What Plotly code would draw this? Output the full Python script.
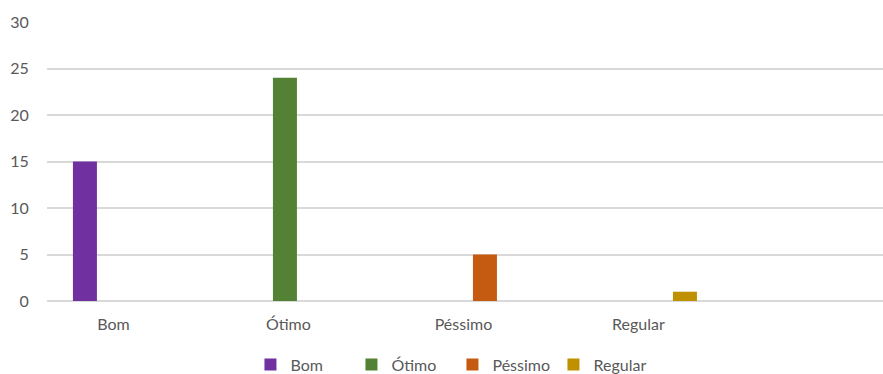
import plotly.graph_objects as go

# Categories and counts
categorias = ["Bom", "Ótimo", "Péssimo", "Regular"]
valores = [15, 24, 5, 1]
cores = ["#7030A0", "#548235", "#C55A11", "#BF9000"]
y_ticks = [0, 5, 10, 15, 20, 25, 30]

texto = "#595959"
grade = "#D9D9D9"
fonte = "Lato, 'Open Sans', sans-serif"

fig = go.Figure()
for nome, valor, cor in zip(categorias, valores, cores):
    # each series only carries a value in its own category
    y = [valor if c == nome else None for c in categorias]
    fig.add_trace(go.Bar(x=categorias, y=y, name=nome, marker_color=cor,
                         marker_line_width=0))

fig.update_layout(
    width=883, height=374,
    margin=dict(l=47, r=0, t=22, b=73, pad=0, autoexpand=False),
    paper_bgcolor="white", plot_bgcolor="white",
    barmode="group", bargap=0.4286, bargroupgap=0.04,
    font=dict(family=fonte, size=16, color=texto),
    showlegend=True,
    legend=dict(orientation="h", x=0.485, xanchor="center",
                yref="container", y=0.025, yanchor="middle",
                font=dict(size=16, color=texto),
                entrywidth=56, entrywidthmode="pixels",
                itemwidth=30, tracegroupgap=0),
)
fig.update_xaxes(
    type="category", range=[-0.431, 4.346],
    showgrid=False, showline=False, zeroline=False,
    ticks="outside", ticklen=9, tickcolor="rgba(0,0,0,0)",
    ticklabelshift=-9, tickfont=dict(size=16, color=texto),
)
fig.update_yaxes(
    range=[0, 30], tickvals=y_ticks,
    showgrid=True, gridcolor=grade, gridwidth=1.5,
    zeroline=True, zerolinecolor=grade, zerolinewidth=1.5,
    showline=False,
    ticks="outside", ticklen=14, tickcolor="rgba(0,0,0,0)",
    tickfont=dict(size=16, color=texto),
)

fig.write_html("out.html")
